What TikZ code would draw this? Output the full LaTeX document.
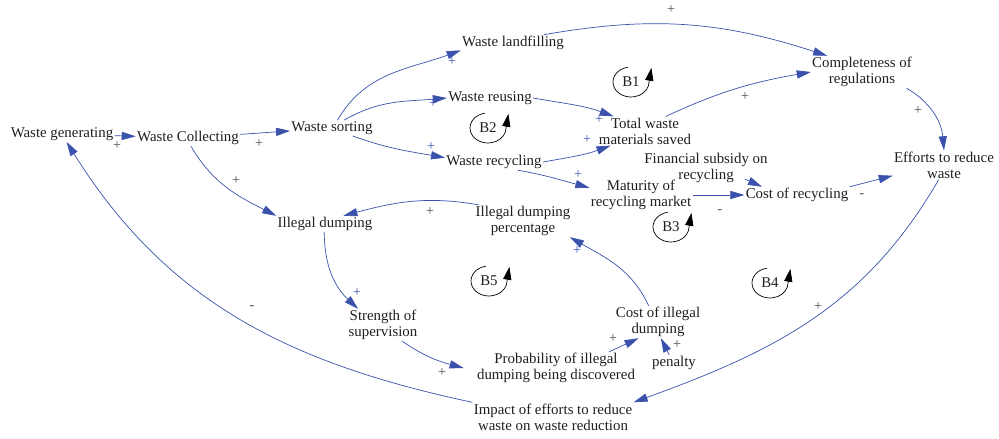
\documentclass[tikz,border=0pt]{standalone}
\usepackage{fontspec}
\setmainfont{Liberation Serif}
\usetikzlibrary{arrows.meta}
\definecolor{linkblue}{RGB}{58,82,172}
\definecolor{signgray}{RGB}{75,75,75}

\begin{document}
\begin{tikzpicture}[x=0.3mm, y=0.3mm,
    var/.style={align=center, inner sep=1pt, text=black!88,
      font=\fontsize{12.7}{13.6}\selectfont},
    link/.style={draw=linkblue, line width=0.6pt,
      -{Triangle[length=12pt, width=7pt]}},
    sign/.style={inner sep=0pt, text=signgray, font=\fontsize{12}{13}\selectfont},
    bsign/.style={sign, text=linkblue},
    loopline/.style={draw=black, line width=0.6pt,
      -{Triangle[length=11pt, width=7pt]}}]

    \useasboundingbox (0,0) rectangle (999,-439);

    % variables
    \node[var] (gen) at (62,-134) {Waste generating};
    \node[var] (coll) at (188,-138) {Waste Collecting};
    \node[var] (sort) at (332,-128) {Waste sorting};
    \node[var] (land) at (513,-43) {Waste landfilling};
    \node[var] (reuse) at (490,-98) {Waste reusing};
    \node[var] (recyc) at (494,-162) {Waste recycling};
    \node[var] (saved) at (645,-131) {Total waste\\materials saved};
    \node[var] (regul) at (862,-72) {Completeness of\\regulations};
    \node[var] (effort) at (944,-165) {Efforts to reduce\\waste};
    \node[var] (subsidy) at (706,-168) {Financial subsidy on\\recycling};
    \node[var] (market) at (641,-195) {Maturity of\\recycling market};
    \node[var] (costrec) at (797,-195) {Cost of recycling};
    \node[var] (illegal) at (325,-224) {Illegal dumping};
    \node[var] (percent) at (523,-221) {Illegal dumping\\percentage};
    \node[var] (superv) at (383,-325) {Strength of\\supervision};
    \node[var] (costill) at (658,-322) {Cost of illegal\\dumping};
    \node[var] (prob) at (556,-368) {Probability of illegal\\dumping being discovered};
    \node[var] (penalty) at (674,-363) {penalty};
    \node[var] (impact) at (553,-417) {Impact of efforts to reduce\\waste on waste reduction};

    % links
    \draw[link] (gen) -- (coll);
    \draw[link] (coll) -- (sort);
    \draw[link] (sort.55) to[out=60,in=200] (land.188);
    \draw[link] (sort.33) to[out=30,in=185] (reuse.west);
    \draw[link] (sort.-21) to[out=-20,in=170] (recyc.175);
    \draw[link] (land.15) to[out=10,in=162] (regul.155);
    \draw[link] (reuse.east) to[out=-10,in=160] (saved.155);
    \draw[link] (recyc.east) to[out=10,in=200] (saved.203);
    \draw[link] (saved.35) to[out=25,in=190] (regul.west);
    \draw[link] (regul.-20) to[out=-30,in=95] (effort.north);
    \draw[link] (recyc.-19) to[out=-10,in=165] (market.172);
    \draw[link] (market.east) -- (costrec.west);
    \draw[link] ([shift={(-24,5)}]subsidy.south east) -- ([shift={(-35,0)}]costrec.north);
    \draw[link] (costrec.north east) -- ([shift={(0,4)}]effort.south west);
    \draw[link] (effort.-110) to[out=-120,in=20] (impact.north east);
    \draw[link] (impact.north west) to[out=168,in=-58] (gen.-60);
    \draw[link] (coll.-70) to[out=-60,in=153] (illegal.north west);
    \draw[link] (percent.160) to[out=170,in=15] (illegal.24);
    \draw[link] (illegal.-95) to[out=-90,in=137] (superv.147);
    \draw[link] (superv.-40) to[out=-35,in=165] ([shift={(-12,0)}]prob.west);
    \draw[link] (prob.17) -- (costill.220);
    \draw[link] (penalty.120) -- (costill.-80);
    \draw[link] (costill.120) to[out=115,in=-30] (percent.-19);

    % polarities
    \foreach \s/\x/\y [count=\i] in {+/117/146, +/259/144, +/236/181, +/671/10,
        +/745/97, +/918/111, -/720/212, -/862/196, +/818/307, -/252/308,
        +/430/212, +/442/373, +/613/339, +/677/345}
      \node[sign] (pg\i) at (\x,-\y) {\s};
    \foreach \x/\y [count=\i] in {452/62, 433/104, 431/147, 599/120,
        587/140, 578/175, 357/293, 577/251}
      \node[bsign] (pb\i) at (\x,-\y) {+};

    % loop markers
    \foreach \lbl/\cx/\cy in {B1/631/82, B2/488/128, B3/671/227, B4/770/283, B5/489/281} {
      \node[var] (\lbl) at (\cx,-\cy) {\lbl};
      \draw[loopline] (\lbl.center) ++(100:18 and 15)
        arc[start angle=100, end angle=345, x radius=18, y radius=15] -- ++(3,18);
    }
\end{tikzpicture}
\end{document}
